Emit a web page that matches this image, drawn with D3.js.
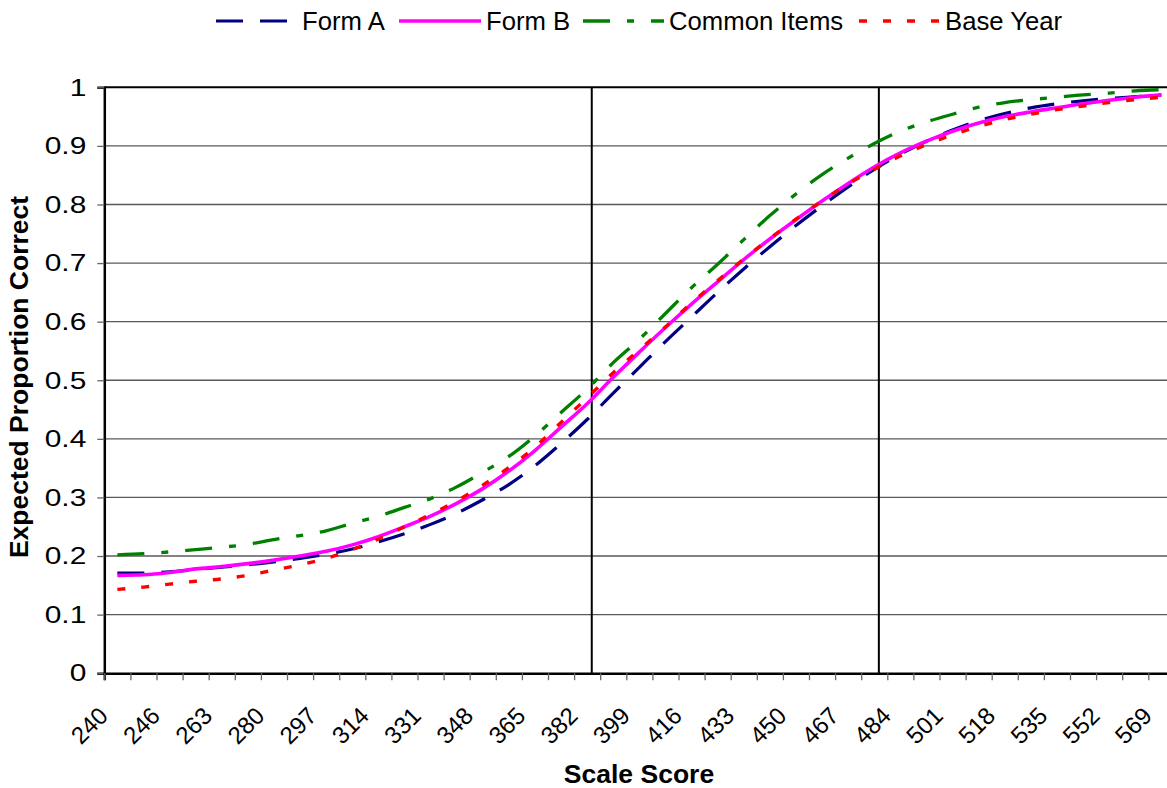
<!DOCTYPE html>
<html><head><meta charset="utf-8">
<script src="https://cdn.jsdelivr.net/npm/d3@7/dist/d3.min.js"></script>
<style>
body{margin:0;background:#fff}
svg{display:block}
text{font-family:Arial,"Liberation Sans",sans-serif;fill:#000}
</style>
</head><body>
<svg id="chart" width="1167" height="788"></svg>
<script>
// ---- data ----
const tickLabels = ["240","246","263","280","297","314","331","348","365","382","399","416","433","450","467","484","501","518","535","552","569"]; // shown on every other category
const categoryCount = 41;
const formA = [0.171,0.171,0.173,0.177,0.181,0.185,0.190,0.196,0.203,0.212,0.224,0.238,0.254,0.273,0.296,0.322,0.354,0.392,0.433,0.478,0.522,0.566,0.608,0.650,0.690,0.728,0.764,0.798,0.830,0.860,0.886,0.908,0.927,0.943,0.955,0.965,0.972,0.977,0.981,0.984,0.987];
const formB = [0.167,0.168,0.172,0.178,0.182,0.187,0.193,0.200,0.208,0.219,0.233,0.250,0.268,0.290,0.315,0.345,0.380,0.420,0.460,0.505,0.548,0.590,0.630,0.668,0.706,0.741,0.774,0.806,0.836,0.864,0.888,0.908,0.925,0.939,0.950,0.958,0.965,0.972,0.978,0.983,0.987];
const commonItems = [0.202,0.204,0.207,0.211,0.215,0.220,0.228,0.235,0.243,0.256,0.268,0.283,0.298,0.318,0.343,0.370,0.405,0.445,0.485,0.530,0.570,0.614,0.658,0.698,0.740,0.781,0.818,0.851,0.879,0.904,0.925,0.941,0.954,0.966,0.974,0.979,0.983,0.987,0.990,0.994,0.996];
const baseYear = [0.143,0.147,0.152,0.157,0.161,0.167,0.176,0.185,0.196,0.211,0.229,0.250,0.271,0.294,0.321,0.351,0.386,0.428,0.470,0.513,0.552,0.591,0.632,0.670,0.707,0.742,0.775,0.806,0.835,0.860,0.883,0.902,0.919,0.933,0.945,0.954,0.962,0.968,0.974,0.979,0.983];
const cutScores = [383.5, 477];
const yTicks = [0,0.1,0.2,0.3,0.4,0.5,0.6,0.7,0.8,0.9,1];
const seriesNames = ["Form A","Form B","Common Items","Base Year"];

(function () {
// ---- layout ----
const svg = d3.select("#chart");
const plotLeft = 104.3, plotTop = 87.3, plotBottom = 673.2, step = 26.1;
const x = d3.scaleLinear().domain([0, categoryCount]).range([plotLeft, plotLeft + step*categoryCount]);
const y = d3.scaleLinear().domain([0, 1]).range([plotBottom, plotTop]);
const cx = i => x(i + 0.5);
// score -> category index using labelled categories (246 at index 2, half the label step per category)
const scoreIndex = s => 2 + (s - +tickLabels[1]) / ((+tickLabels[2] - +tickLabels[1]) / 2);

const series = [
  {name: seriesNames[0], values: formA, color: "#000080", dash: "27,17", width: 3.2},
  {name: seriesNames[1], values: formB, color: "#FF00FF", dash: null, width: 3.6},
  {name: seriesNames[2], values: commonItems, color: "#008000", dash: "27,17,7,17", width: 3.3},
  {name: seriesNames[3], values: baseYear, color: "#FF0000", dash: "8,16", width: 3.4}
];

// gridlines
svg.append("g").selectAll("line").data(yTicks.filter(t => t > 0 && t < 1)).join("line")
  .attr("x1", plotLeft).attr("x2", 1167).attr("y1", d => y(d)).attr("y2", d => y(d))
  .attr("stroke", "#5a5a5a").attr("stroke-width", 1.3);
// top border
svg.append("line").attr("x1", plotLeft).attr("x2", 1167).attr("y1", y(1)).attr("y2", y(1))
  .attr("stroke", "#000").attr("stroke-width", 2);

// y axis (labels slightly stretched horizontally as in the reference)
const yAxis = d3.axisLeft(y).tickValues(yTicks).tickSize(7).tickFormat("");
const gy = svg.append("g").attr("transform", `translate(${plotLeft},0)`).call(yAxis);
gy.select(".domain").attr("stroke", "#000").attr("stroke-width", 2.5);
gy.selectAll(".tick line").attr("stroke", "#666").attr("stroke-width", 1.3);
svg.append("g").selectAll("text").data(yTicks).join("text")
  .attr("transform", d => `translate(${plotLeft - 18},${y(d)}) scale(1.3,1)`)
  .attr("text-anchor", "end").attr("dy", "0.36em").attr("font-size", 23)
  .text(d => String(+d.toFixed(1)));

// x axis
const xAxis = d3.axisBottom(x).tickValues(d3.range(0, categoryCount + 1)).tickSize(7).tickFormat("");
const gx = svg.append("g").attr("transform", `translate(0,${plotBottom})`).call(xAxis);
gx.select(".domain").attr("stroke", "#000").attr("stroke-width", 2.5);
gx.selectAll(".tick line").attr("stroke", "#666").attr("stroke-width", 1.3);
svg.append("g").selectAll("text").data(tickLabels).join("text")
  .attr("transform", (d, i) => `translate(${cx(i*2) - 8},${plotBottom + 44}) rotate(-45)`)
  .attr("text-anchor", "end").attr("font-size", 24).text(d => d);

// cut score lines
svg.append("g").selectAll("line").data(cutScores).join("line")
  .attr("x1", d => cx(scoreIndex(d))).attr("x2", d => cx(scoreIndex(d)))
  .attr("y1", y(1)).attr("y2", y(0))
  .attr("stroke", "#000").attr("stroke-width", 2);

// series
const line = d3.line().x((d, i) => cx(i)).y(d => y(d)).curve(d3.curveMonotoneX);
svg.append("g").selectAll("path").data(series).join("path")
  .attr("d", d => line(d.values)).attr("fill", "none")
  .attr("stroke", d => d.color).attr("stroke-width", d => d.width)
  .attr("stroke-dasharray", d => d.dash);

// axis titles
svg.append("text").attr("x", 639).attr("y", 783).attr("text-anchor", "middle")
  .attr("font-size", 26.5).attr("font-weight", "bold").text("Scale Score");
svg.append("text").attr("transform", "translate(28,377) rotate(-90)").attr("text-anchor", "middle")
  .attr("font-size", 26.5).attr("font-weight", "bold").text("Expected Proportion Correct");

// legend
const legendPos = [{x0: 216, x1: 288, tx: 302}, {x0: 399, x1: 481, tx: 486}, {x0: 583, x1: 664, tx: 669}, {x0: 859, x1: 940, tx: 945}];
const lg = svg.append("g").selectAll("g").data(series).join("g");
lg.append("line").attr("x1", (d, i) => legendPos[i].x0).attr("x2", (d, i) => legendPos[i].x1)
  .attr("y1", 21).attr("y2", 21).attr("stroke", d => d.color).attr("stroke-width", d => d.width)
  .attr("stroke-dasharray", d => d.dash);
lg.append("text").attr("x", (d, i) => legendPos[i].tx).attr("y", 30)
  .attr("font-size", 25.7).text(d => d.name);
})();
</script>
</body></html>
